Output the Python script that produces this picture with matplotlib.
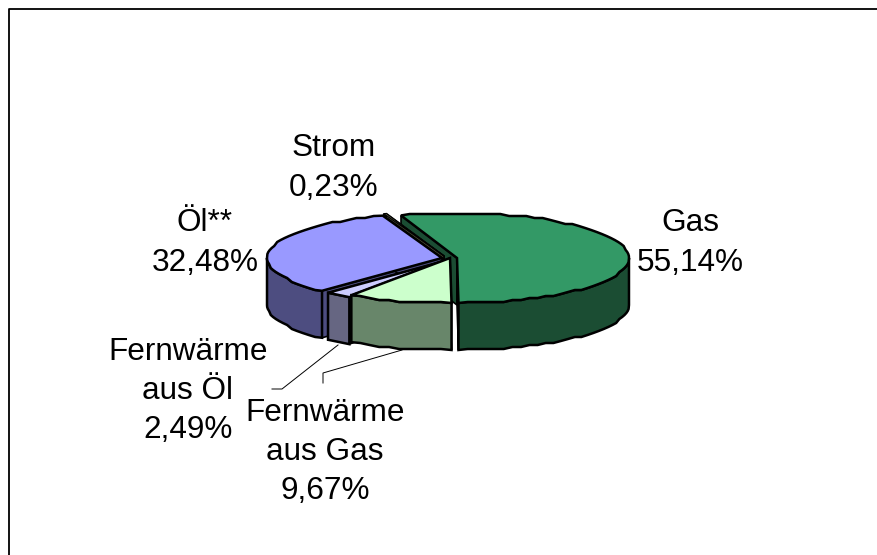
import numpy as np
import matplotlib
matplotlib.use('Agg')
import matplotlib.pyplot as plt

plt.rcParams['font.family'] = ['Liberation Sans', 'DejaVu Sans']

# clockwise from about 11 o'clock, same order as the chart
names = ['Gas', 'Fernwärme\naus Gas', 'Fernwärme\naus Öl', 'Öl**', 'Strom']
shares = [55.14, 9.67, 2.49, 32.48, 0.23]
top_colors = ['#339966', '#ccffcc', '#ccccff', '#9999ff', '#8c8c6c']
side_colors = ['#1b4d33', '#68866a', '#666682', '#4d4d80', '#4d4d33']
apex_x = [457, 450, 448, 442, 444]
apex_y = [258, 258, 260, 258, 256]
radius_x = [172, 175, 175, 175, 178]
label_x = [690, 325, 188, 205, 334]
label_y = [243, 452, 391, 243, 168]

start_angle = 109.0
radius_y = 45
depth = 47


def rim(i, a1, a2):
    # the original rim is a rough polygon, so step it a little
    n = max(2, int(abs(a2 - a1) / 3))
    a = np.radians(np.linspace(a1, a2, n))
    x = apex_x[i] + radius_x[i] * np.cos(a)
    y = apex_y[i] - radius_y * np.sin(a)
    y[1:-1] = np.round(y[1:-1] / 2) * 2
    return x, y


fig = plt.figure(figsize=(8.78, 5.55), dpi=100)
ax = fig.add_axes([0, 0, 1, 1])
ax.set_xlim(0, 878)
ax.set_ylim(555, 0)
ax.axis('off')

# frame, only top and left reach the picture
ax.plot([9, 9, 878], [555, 9, 9], color='black', lw=1.3)

ends = start_angle - np.cumsum(shares) * 3.6
starts = np.r_[start_angle, ends[:-1]]

# back to front, slices in front are painted over the gas walls
for i in [0, 4, 3, 2, 1]:
    x, y = rim(i, starts[i], ends[i])
    # radial walls
    for k in [0, -1]:
        ax.fill([apex_x[i], x[k], x[k], apex_x[i]],
                [apex_y[i], y[k], y[k] + depth, apex_y[i] + depth],
                fc=side_colors[i], ec='black', lw=1.2)
    # outer wall, only the front half of the rim shows
    front = y >= apex_y[i]
    if front.sum() > 1:
        ax.fill(np.r_[x[front], x[front][::-1]],
                np.r_[y[front], y[front][::-1] + depth],
                fc=side_colors[i], ec='black', lw=1.8)
    ax.fill(np.r_[apex_x[i], x], np.r_[apex_y[i], y],
            fc=top_colors[i], ec='black', lw=0.8 if i == 4 else 1.8)

for i in range(len(names)):
    pct = f'{shares[i]:.2f}%'.replace('.', ',')
    ax.text(label_x[i], label_y[i], names[i] + '\n' + pct, ha='center', va='center',
            fontsize=22.7, linespacing=1.4, color='black')

# leader lines
ax.plot([338, 282, 272], [345, 389, 389], color='black', lw=0.7)
ax.plot([402, 323, 323], [350, 373, 383], color='black', lw=0.7)

fig.savefig('out.png', dpi=100)
